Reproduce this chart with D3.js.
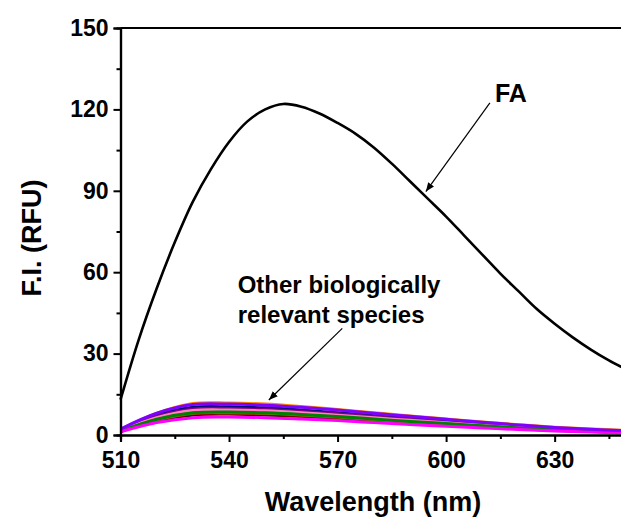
<!DOCTYPE html>
<html>
<head>
<meta charset="utf-8">
<script src="https://cdn.jsdelivr.net/npm/d3@7"></script>
<style>
  body { margin: 0; background: #fff; }
  text { font-family: "Liberation Sans", Arial, sans-serif; font-weight: bold; }
</style>
</head>
<body>
<script>
// FA emission spectrum (5 nm steps)
var faWave = [510,515,520,525,530,535,540,545,550,555,560,565,570,575,580,585,590,595,600,605,610,615,620,625,630,635,640,645,650];
var faValues = [13,35,54,71,86,98,108,115.5,120,122,121,118.5,115,111,106,100,93.5,87,80.5,73.5,66.5,59.5,53,46.5,41,36,31.5,27.5,24];

// other species (10 nm steps)
var otherWave = [510,520,530,540,550,560,570,580,590,600,610,620,630,640,650];
var orangeVals  = [2.0,8.0,11.6,11.8,11.4,10.5,9.4,8.2,7.0,5.9,4.8,3.8,2.9,2.2,1.7];
var navyVals    = [1.8,7.2,10.2,10.4,10.0,9.2,8.2,7.1,6.0,5.0,4.0,3.1,2.4,1.8,1.3];
var purpleVals  = [1.7,6.8,9.6,9.8,9.4,8.7,7.8,6.8,5.8,4.8,3.9,3.0,2.3,1.7,1.3];
var pinkVals    = [1.6,6.4,9.0,9.2,8.9,8.2,7.3,6.4,5.4,4.5,3.6,2.8,2.1,1.6,1.2];
var greenVals   = [1.4,5.8,8.2,8.5,8.2,7.6,6.8,5.9,5.0,4.2,3.4,2.6,2.0,1.5,1.1];
var oliveVals   = [1.4,5.6,8.0,8.2,8.0,7.4,6.6,5.7,4.8,4.0,3.2,2.5,1.9,1.4,1.0];
var wineVals    = [1.3,5.4,7.6,7.9,7.6,7.0,6.3,5.5,4.6,3.8,3.1,2.4,1.8,1.3,1.0];
var blackVals   = [1.3,5.3,7.4,7.7,7.4,6.9,6.1,5.3,4.5,3.7,3.0,2.3,1.7,1.3,0.9];
var magentaVals = [1.2,4.6,6.4,6.6,6.4,5.9,5.3,4.6,3.9,3.2,2.6,2.0,1.5,1.1,0.8];
var violetVals  = [2.2,8.0,11.2,11.4,11.0,10.2,9.2,8.0,6.9,5.8,4.7,3.7,2.8,2.1,1.6];

// drawing order: first is underneath
var others = [
  {color: "#000000", values: blackVals},
  {color: "#FF8000", values: orangeVals},
  {color: "#000080", values: navyVals},
  {color: "#800080", values: purpleVals},
  {color: "#FF80C0", values: pinkVals},
  {color: "#800000", values: wineVals},
  {color: "#808000", values: oliveVals},
  {color: "#008000", values: greenVals},
  {color: "#FF00FF", values: magentaVals},
  {color: "#8000FF", values: violetVals}
];

var xMajor = [510,540,570,600,630];
var xMinor = [525,555,585,615,645];
var yMajor = [0,30,60,90,120,150];
var yMinor = [15,45,75,105,135];

var width = 621, height = 518;

var svg = d3.select("body").append("svg")
  .attr("width", width)
  .attr("height", height);

svg.append("rect").attr("width", width).attr("height", height).attr("fill", "#fff");

var x = d3.scaleLinear().domain([510, 650]).range([120.5, 627]);
var y = d3.scaleLinear().domain([0, 150]).range([435, 28]);

// curves
var line = d3.line()
  .x(function(d){ return x(d[0]); })
  .y(function(d){ return y(d[1]); })
  .curve(d3.curveCatmullRom.alpha(0.5));

svg.selectAll("path.other")
  .data(others)
  .enter()
  .append("path")
  .attr("class", "other")
  .attr("fill", "none")
  .attr("stroke", function(d){ return d.color; })
  .attr("stroke-width", 3)
  .attr("d", function(d){
    return line(d.values.map(function(v, i){ return [otherWave[i], v]; }));
  });

svg.append("path")
  .attr("fill", "none")
  .attr("stroke", "#000")
  .attr("stroke-width", 2.6)
  .attr("d", line(faValues.map(function(v, i){ return [faWave[i], v]; })));

// axes
var xAxis = d3.axisBottom(x).tickValues(xMajor).tickSize(7).tickPadding(5).tickFormat(d3.format("d"));
var gx = svg.append("g").attr("transform", "translate(0," + y(0) + ")").call(xAxis);
gx.append("g").call(d3.axisBottom(x).tickValues(xMinor).tickSize(4).tickFormat(""));

var yAxis = d3.axisLeft(y).tickValues(yMajor).tickSize(7).tickPadding(5).tickFormat(d3.format("d"));
var gy = svg.append("g").attr("transform", "translate(" + x(510) + ",0)").call(yAxis);
gy.append("g").call(d3.axisLeft(y).tickValues(yMinor).tickSize(4).tickFormat(""));

svg.selectAll(".domain").attr("stroke", "#000").attr("stroke-width", 2.2);
svg.selectAll(".tick line").attr("stroke", "#000").attr("stroke-width", 2);
svg.selectAll(".tick text").attr("fill", "#000").style("font-size", "23px").style("font-weight", "bold");
gx.selectAll(".tick text").attr("dy", "0.9em");

// top and right frame
svg.append("line")
  .attr("x1", x(510)).attr("x2", x(650))
  .attr("y1", y(150)).attr("y2", y(150))
  .attr("stroke", "#000").attr("stroke-width", 2.2);
svg.append("line")
  .attr("x1", x(650)).attr("x2", x(650))
  .attr("y1", y(150)).attr("y2", y(0))
  .attr("stroke", "#000").attr("stroke-width", 2.2);

// axis titles
svg.append("text")
  .attr("x", 373).attr("y", 511)
  .attr("text-anchor", "middle")
  .style("font-size", "27px")
  .text("Wavelength (nm)");

svg.append("text")
  .attr("transform", "translate(41,238) rotate(-90)")
  .attr("text-anchor", "middle")
  .style("font-size", "27px")
  .text("F.I. (RFU)");

// annotations
var defs = svg.append("defs");
defs.append("marker")
  .attr("id", "arrow")
  .attr("viewBox", "0 0 10 10")
  .attr("refX", 10).attr("refY", 5)
  .attr("markerWidth", 9).attr("markerHeight", 9)
  .attr("markerUnits", "userSpaceOnUse")
  .attr("orient", "auto")
  .append("path")
  .attr("d", "M0,1 L10,5 L0,9 Z")
  .attr("fill", "#000");

svg.append("line")
  .attr("x1", x(612.1)).attr("y1", y(122.4))
  .attr("x2", x(594.4)).attr("y2", y(89.7))
  .attr("stroke", "#000").attr("stroke-width", 1.2)
  .attr("marker-end", "url(#arrow)");

svg.append("text")
  .attr("x", x(613.5)).attr("y", y(122.7))
  .style("font-size", "25px")
  .text("FA");

svg.append("line")
  .attr("x1", x(571.3)).attr("y1", y(39.3))
  .attr("x2", x(551.0)).attr("y2", y(12.9))
  .attr("stroke", "#000").attr("stroke-width", 1.2)
  .attr("marker-end", "url(#arrow)");

svg.append("text")
  .attr("x", x(542.4)).attr("y", y(52.3))
  .style("font-size", "24px")
  .text("Other biologically");
svg.append("text")
  .attr("x", x(542.4)).attr("y", y(41.3))
  .style("font-size", "24px")
  .text("relevant species");
</script>
</body>
</html>
